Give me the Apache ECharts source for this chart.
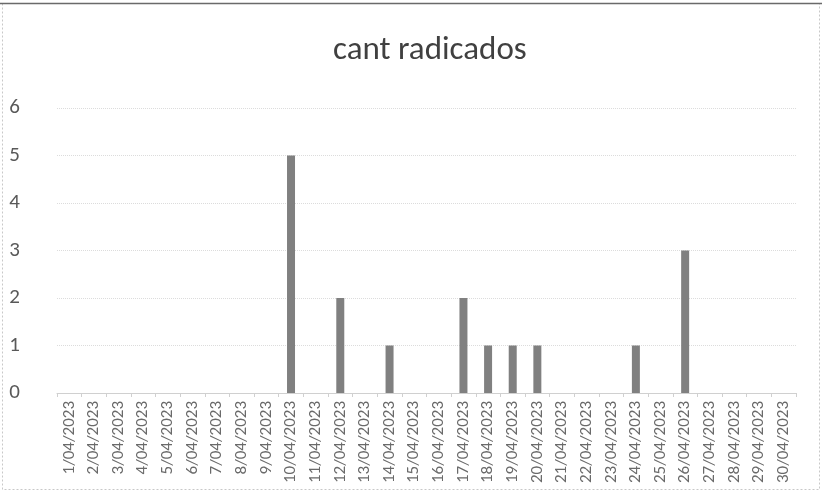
<!DOCTYPE html>
<html>
<head>
<meta charset="utf-8">
<script src="https://cdn.jsdelivr.net/npm/echarts@6/dist/echarts.min.js"></script>
<style>
  html, body { margin: 0; padding: 0; background: #fff; }
  #chart { width: 822px; height: 493px; }
</style>
</head>
<body>
<div id="chart"></div>
<script>
// Daily counts for April 2023
const categories = [
  '1/04/2023', '2/04/2023', '3/04/2023', '4/04/2023', '5/04/2023',
  '6/04/2023', '7/04/2023', '8/04/2023', '9/04/2023', '10/04/2023',
  '11/04/2023', '12/04/2023', '13/04/2023', '14/04/2023', '15/04/2023',
  '16/04/2023', '17/04/2023', '18/04/2023', '19/04/2023', '20/04/2023',
  '21/04/2023', '22/04/2023', '23/04/2023', '24/04/2023', '25/04/2023',
  '26/04/2023', '27/04/2023', '28/04/2023', '29/04/2023', '30/04/2023'
];
const radicados = [
  null, null, null, null, null, null, null, null, null, 5,
  null, 2, null, 1, null, null, 2, 1, 1, 1,
  null, null, null, 1, null, 3, null, null, null, null
];
const yTicks = { min: 0, max: 6, interval: 1 };
const titleText = 'cant radicados';

const font = "Carlito, 'Liberation Sans Narrow', 'Noto Sans', sans-serif";
const chart = echarts.init(document.getElementById('chart'));
chart.setOption({
  animation: false,
  backgroundColor: '#ffffff',
  title: {
    text: titleText,
    left: 328,
    top: 29,
    textStyle: { fontFamily: font, fontSize: 33, fontWeight: 'normal', color: '#404040' }
  },
  grid: { left: 57, right: 26, top: 108, bottom: 100, outerBoundsMode: 'none' },
  xAxis: {
    type: 'category',
    data: categories,
    axisLine: { show: true, lineStyle: { color: '#d0d0d0' } },
    axisTick: { show: true, alignWithLabel: false, length: 4, lineStyle: { color: '#d0d0d0' } },
    axisLabel: {
      rotate: 90, interval: 0, margin: 8,
      fontFamily: font, fontSize: 17, color: '#6a6a6a'
    }
  },
  yAxis: {
    type: 'value',
    min: yTicks.min, max: yTicks.max, interval: yTicks.interval,
    axisLine: { show: false },
    axisTick: { show: false },
    axisLabel: { margin: 37, fontFamily: font, fontSize: 21, color: '#595959' },
    splitLine: { lineStyle: { color: '#dcdcdc', type: 'dotted', width: 1 } }
  },
  series: [{
    type: 'bar',
    data: radicados,
    barWidth: 8,
    itemStyle: { color: '#808080' }
  }],
  graphic: [
    { type: 'rect', shape: { x: 2.5, y: 3.5, width: 817, height: 486 },
      style: { fill: 'none', stroke: '#c8c8c8', lineWidth: 1, lineDash: [2, 2] }, silent: true },
    { type: 'line', shape: { x1: 0, y1: 3.5, x2: 822, y2: 3.5 },
      style: { stroke: '#6a6a6a', lineWidth: 1.5 }, silent: true }
  ]
});
</script>
</body>
</html>
